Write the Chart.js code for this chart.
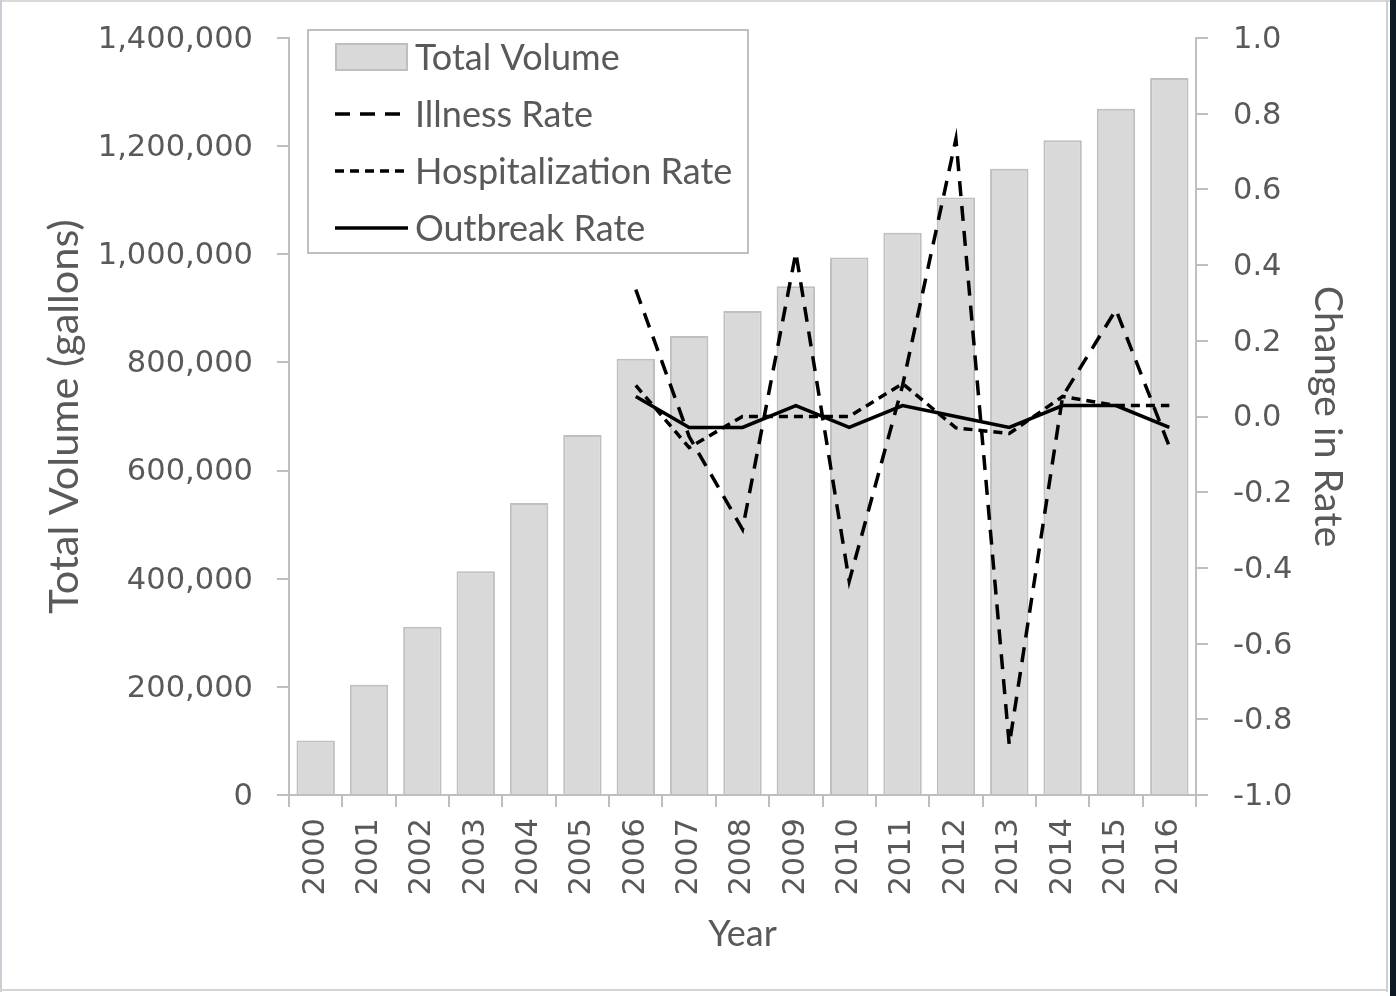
<!DOCTYPE html>
<html>
<head>
<meta charset="utf-8">
<script src="https://cdn.jsdelivr.net/npm/chart.js@4.4.1/dist/chart.umd.min.js"></script>
<style>
  html, body { margin: 0; padding: 0; background: #ffffff; }
  #wrap { position: relative; width: 1396px; height: 996px; overflow: hidden; }
  canvas { position: absolute; left: 0; top: 0; }
  .fr { position: absolute; }
</style>
</head>
<body>
<div id="wrap">
  <canvas id="c" width="1396" height="996"></canvas>
  <div class="fr" style="left:0;top:0;width:1390px;height:2px;background:#d9d9d9"></div>
  <div class="fr" style="left:0;top:0;width:2px;height:992px;background:#c9ced4"></div>
  <div class="fr" style="left:1386px;top:0;width:2px;height:992px;background:#cfcfcf"></div>
  <div class="fr" style="left:0;top:989px;width:1388px;height:2px;background:#d4d4d4"></div>
  <div class="fr" style="left:1390px;top:0;width:6px;height:996px;background:#0e1a26"></div>
</div>
<script>
const years = ['2000','2001','2002','2003','2004','2005','2006','2007','2008','2009','2010','2011','2012','2013','2014','2015','2016'];
const totalVolume = [101000, 204000, 311000, 414000, 540000, 666000, 807000, 849000, 895000, 941000, 994000, 1040000, 1105000, 1158000, 1211000, 1269000, 1326000];
const illnessRate = [null, null, null, null, null, null, 0.335, -0.053, -0.298, 0.433, -0.435, 0.082, 0.733, -0.868, 0.053, 0.282, -0.079];
const hospitalizationRate = [null, null, null, null, null, null, 0.082, -0.082, 0.0, 0.0, 0.0, 0.087, -0.03, -0.045, 0.053, 0.029, 0.029];
const outbreakRate = [null, null, null, null, null, null, 0.053, -0.029, -0.029, 0.029, -0.029, 0.029, 0.0, -0.029, 0.029, 0.029, -0.029];
const leftTicks = [0, 200000, 400000, 600000, 800000, 1000000, 1200000, 1400000];
const rightTicks = [-1.0, -0.8, -0.6, -0.4, -0.2, 0.0, 0.2, 0.4, 0.6, 0.8, 1.0];

const TICK_FONT = { family: 'DejaVu Sans', size: 30.5 };
const TITLE_FAMILY = 'Lato';
const TXT = '#595959';
const AXIS = '#bfbfbf';

const legendPlugin = {
  id: 'boxLegend',
  afterDraw(chart) {
    const ctx = chart.ctx;
    const bx = 308, by = 30, bw = 440, bh = 223;
    ctx.save();
    ctx.fillStyle = '#ffffff';
    ctx.fillRect(bx, by, bw, bh);
    ctx.strokeStyle = AXIS;
    ctx.lineWidth = 2;
    ctx.setLineDash([]);
    ctx.strokeRect(bx, by, bw, bh);
    const rowY0 = 57, rowStep = 57, sx = 335, sw = 73, tx = 415;
    ctx.font = '36px ' + TITLE_FAMILY;
    ctx.textBaseline = 'middle';
    ctx.textAlign = 'left';
    chart.data.datasets.forEach((ds, i) => {
      const y = rowY0 + i * rowStep;
      if (ds.type === 'bar') {
        ctx.setLineDash([]);
        ctx.fillStyle = ds.backgroundColor;
        ctx.fillRect(sx, y - 14, sw, 28);
        ctx.strokeStyle = ds.borderColor;
        ctx.lineWidth = 2;
        ctx.strokeRect(sx + 1, y - 13, sw - 2, 26);
      } else {
        ctx.setLineDash(ds.borderDash || []);
        ctx.strokeStyle = ds.borderColor;
        ctx.lineWidth = ds.borderWidth;
        ctx.beginPath();
        ctx.moveTo(sx, y);
        ctx.lineTo(sx + sw, y);
        ctx.stroke();
      }
      ctx.setLineDash([]);
      ctx.fillStyle = TXT;
      ctx.fillText(ds.label, tx, y + 1);
    });
    ctx.restore();
  }
};

function noVPad(s) { s.paddingTop = 0; s.paddingBottom = 0; }

new Chart(document.getElementById('c'), {
  data: {
    labels: years,
    datasets: [
      {
        type: 'bar', label: 'Total Volume', data: totalVolume, yAxisID: 'y',
        backgroundColor: '#d9d9d9', borderColor: '#bfbfbf', borderWidth: 2,
        barPercentage: 0.72, categoryPercentage: 1.0, order: 10
      },
      {
        type: 'line', label: 'Illness Rate', data: illnessRate, yAxisID: 'y1',
        borderColor: '#000000', borderWidth: 3.5, borderDash: [15, 10],
        pointRadius: 0, tension: 0, fill: false, order: 3
      },
      {
        type: 'line', label: 'Hospitalization Rate', data: hospitalizationRate, yAxisID: 'y1',
        borderColor: '#000000', borderWidth: 3.5, borderDash: [9, 6],
        pointRadius: 0, tension: 0, fill: false, order: 2
      },
      {
        type: 'line', label: 'Outbreak Rate', data: outbreakRate, yAxisID: 'y1',
        borderColor: '#000000', borderWidth: 3.5,
        pointRadius: 0, tension: 0, fill: false, order: 1
      }
    ]
  },
  options: {
    responsive: false,
    animation: false,
    devicePixelRatio: 1,
    layout: { padding: { top: 38, left: 0, right: 0, bottom: 0 } },
    plugins: { legend: { display: false }, tooltip: { enabled: false } },
    scales: {
      x: {
        type: 'category',
        offset: true,
        grid: { display: true, drawOnChartArea: false, offset: true, color: AXIS, lineWidth: 2, tickLength: 12 },
        border: { color: AXIS, width: 2 },
        ticks: { font: TICK_FONT, color: TXT, maxRotation: 90, minRotation: 90, autoSkip: false, padding: 11 },
        title: { display: true, text: 'Year', color: TXT, font: { family: TITLE_FAMILY, size: 36 }, padding: { top: 0, bottom: 40 } },
        afterFit(s) { s.height = 201; }
      },
      y: {
        type: 'linear', position: 'left', min: 0, max: 1400000,
        afterBuildTicks(s) { s.ticks = leftTicks.map(v => ({ value: v })); },
        grid: { display: true, drawOnChartArea: false, color: AXIS, lineWidth: 2, tickLength: 12 },
        border: { color: AXIS, width: 2 },
        ticks: { font: TICK_FONT, color: TXT, padding: 24, labelOffset: 2, callback: v => Number(v).toLocaleString('en-US') },
        title: { display: true, text: 'Total Volume (gallons)', color: TXT, font: { family: TITLE_FAMILY, size: 41.5 }, padding: { top: 40, bottom: 0 } },
        afterFit(s) { s.width = 289; noVPad(s); }
      },
      y1: {
        type: 'linear', position: 'right', min: -1, max: 1,
        afterBuildTicks(s) { s.ticks = rightTicks.map(v => ({ value: v })); },
        grid: { display: true, drawOnChartArea: false, color: AXIS, lineWidth: 2, tickLength: 12 },
        border: { color: AXIS, width: 2 },
        ticks: { font: TICK_FONT, color: TXT, padding: 25, labelOffset: 2, callback: v => (Math.abs(v) < 1e-9 ? 0 : v).toFixed(1) },
        title: { display: true, text: 'Change in Rate', color: TXT, font: { family: TITLE_FAMILY, size: 39.5 }, padding: { top: 45, bottom: 0 } },
        afterFit(s) { s.width = 200; noVPad(s); }
      }
    }
  },
  plugins: [legendPlugin]
});
</script>
</body>
</html>
